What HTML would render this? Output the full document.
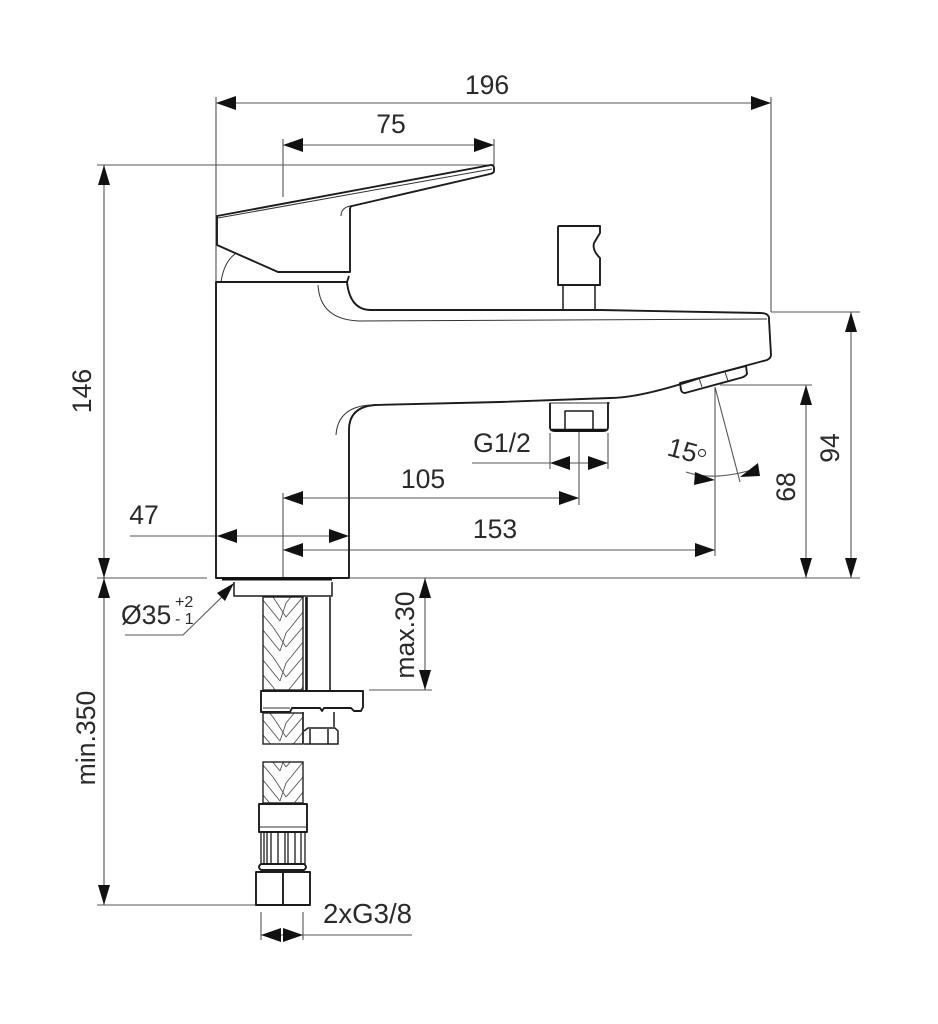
<!DOCTYPE html>
<html><head><meta charset="utf-8"><style>
html,body{margin:0;padding:0;background:#fff;width:938px;height:1024px;overflow:hidden}
svg{display:block}
text{font-family:"Liberation Sans",sans-serif;fill:#2a2a2a;font-size:26.6px}
.d{stroke:#555;stroke-width:1.1;fill:none}
.o{stroke:#1c1c1c;stroke-width:1.9;fill:none;stroke-linejoin:round}
.t{stroke:#333;stroke-width:1;fill:none}
.a{fill:#111;stroke:none}
</style></head><body>
<svg width="938" height="1024" viewBox="0 0 938 1024" xmlns="http://www.w3.org/2000/svg">
<defs>
<pattern id="b" width="40" height="30" patternUnits="userSpaceOnUse" x="263" y="597">
<path d="M0 3L17 24M0 18L10 30M10 0L14 6M40 0L23 20M40 15L28 30M28 0L23 6M14 6L23 20M23 6L17 24" fill="none" stroke="#555" stroke-width="0.9"/>
</pattern>
</defs>

<!-- dimension lines -->
<path class="d" d="M216 97V410M771 97V312M216 103H771M283 139V197M494 139V165M283 145H494M97 165H492
M104 165V578M97 578H207M358 578H432M350 578H860M771 312H860M851 312V578M720 385H812M806 385V578
M104 578V905M97 905H258M369 690H432M425 578V690
M130 536H349M283 493V578M283 498H579M283 550H715M472 463H608M550 433V469M608 433V469M579 430V505
M715 387V556M715 387L740 482M686 472Q715 482 758 468
M125 635H183L226 593M261 912V940M303 912V940M261 935H412"/>

<!-- arrows -->
<g class="a">
<path d="M216 103l20-7v14zM771 103l-20-7v14z"/>
<path d="M283 145l20-7v14zM494 145l-20-7v14z"/>
<path d="M104 165l-6 20h12zM104 578l-6-20h12zM104 578l-6 20h12zM104 905l-6-20h12z"/>
<path d="M851 312l-6 20h12zM851 578l-6-20h12zM806 385l-6 20h12zM806 578l-6-20h12z"/>
<path d="M425 578l-6 20h12zM425 690l-6-20h12z"/>
<path d="M217 536l20-7v14zM349 536l-20-7v14z"/>
<path d="M283 498l20-7v14zM579 498l-20-7v14zM283 550l20-7v14zM715 550l-20-7v14z"/>
<path d="M550 463l20-7v14zM608 463l-20-7v14z"/>
<path d="M715 480l-20-8-1 13zM740 477l18-14 2 13z"/>
<path d="M234 583l-17 10 8 8z"/>
<path d="M261 935l20-7v14zM303 935l-20-7v14z"/>
</g>

<!-- lever -->
<path class="o" d="M217 216L491 165Q494 165 494 168L494 171Q494 173 490 174L352 206Q350 206 350 210V272H278L217 245Z"/>
<path class="t" d="M218 218L492 169M341 216Q341 208 350 206"/>
<path class="t" d="M221 282Q224 262 235 254" stroke-width="1.5"/>
<path class="o" d="M216 282H347L349 276M347 282Q350 310 371 310L600 310L760 313Q770 313 769 320L771 355Q771 358 767 360L700 378Q640 398 610 398L500 402L375 405Q349 407 349 430V578H216V282Z"/>
<path class="t" d="M318 285Q320 320 360 321L560 320L767 319"/>
<path class="t" d="M336 435Q338 407 370 405"/>

<!-- top handle -->
<path class="o" d="M558 227Q558 226 560 226H600V233L594 243Q592 250 600 258V285H558Z"/>
<path class="o" d="M563 286V310M595 286V310" style="stroke-width:1.5"/>

<!-- aerator -->
<path class="o" d="M680 383L746 366L747 374Q745 377 740 378L685 393Q682 393 681 390Z"/>
<path class="t" d="M699 378L702 387M725 372L728 381" stroke-width="1.5"/>

<!-- nut -->
<path class="o" d="M550 403V427Q550 431 555 431H603Q608 431 608 427V402"/>
<path class="o" d="M565 430V411H593V430" style="stroke-width:1.5"/>
<path d="M552 430H606" stroke="#111" stroke-width="2.5"/>
<path class="t" d="M550 403H610"/>

<!-- under body -->
<path d="M222 579H332" stroke="#111" stroke-width="3"/>
<path class="o" d="M234 582V596H332V582" style="stroke-width:1.5"/>
<rect x="263" y="597" width="40" height="93" fill="url(#b)" stroke="#222" stroke-width="1.4"/>
<path d="M306.5 597V690" stroke="#111" stroke-width="2.6"/>
<path class="o" d="M330 597V690" style="stroke-width:1.6"/>
<path class="o" d="M261 691H363V707L361 711H354L351 708H324L322 711L320 708H292L290 712H261Z"/>
<path class="t" d="M263 708H290"/>
<rect x="263" y="713" width="40" height="31" fill="url(#b)" stroke="#222" stroke-width="1.4"/>
<path class="o" d="M303 712V744M334 712V727" style="stroke-width:1.5"/>
<path class="o" d="M304 744H338V731L335 728H308L304 731M310 729V744M328 729V744" style="stroke-width:1.5"/>

<!-- lower hose -->
<rect x="263" y="762" width="40" height="41" fill="url(#b)" stroke="#222" stroke-width="1.4"/>
<path class="o" d="M259 804H307V832H259Z"/>
<path class="t" d="M260 827H306"/>
<path class="o" d="M261 832V864M264 832V864M267 832V864M271 832V864M278 832V864M285 832V864M288 832V864M295 832V864M301 832V864M305 832V864" style="stroke-width:1.3"/>
<path class="o" d="M261 864H304Q308 867 304 870H261Q257 867 261 864Z"/>
<path class="o" d="M256 872H310V905H256ZM283 873V905"/>

<!-- labels -->
<text x="487" y="94" text-anchor="middle">196</text>
<text x="391" y="133" text-anchor="middle">75</text>
<text transform="translate(91 391) rotate(-90)" text-anchor="middle">146</text>
<text transform="translate(839 448) rotate(-90)" text-anchor="middle">94</text>
<text transform="translate(795 487) rotate(-90)" text-anchor="middle">68</text>
<text x="502" y="452" text-anchor="middle">G1/2</text>
<text x="423" y="488" text-anchor="middle">105</text>
<text x="495" y="538" text-anchor="middle">153</text>
<text x="144" y="524" text-anchor="middle">47</text>
<text transform="translate(666 455) rotate(15)">15</text>
<circle cx="702" cy="453" r="3.6" fill="none" stroke="#333" stroke-width="1.1"/>
<text x="121" y="624">Ø35</text>
<text x="175" y="607" style="font-size:16px">+2</text>
<text x="175" y="624" style="font-size:16px">- 1</text>
<text transform="translate(414 635) rotate(-90)" text-anchor="middle">max.30</text>
<text transform="translate(95 738) rotate(-90)" text-anchor="middle">min.350</text>
<text x="323" y="923" style="font-size:27.6px">2xG3/8</text>
</svg>
</body></html>
